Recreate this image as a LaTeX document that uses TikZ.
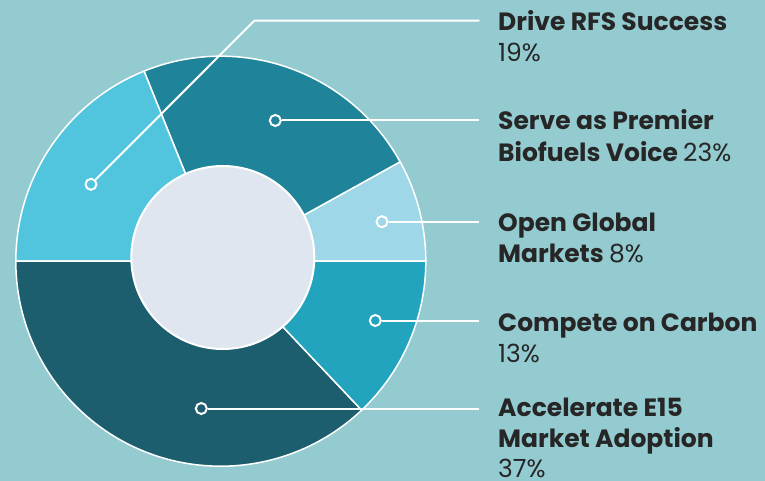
\documentclass[tikz,border=0pt]{standalone}
\usepackage{fontspec}
\setmainfont{Poppins}
\definecolor{bg}{HTML}{93CBD0}
\definecolor{segcyan}{HTML}{52C5DE}
\definecolor{segteal}{HTML}{1F8499}
\definecolor{seglight}{HTML}{9ED8E8}
\definecolor{segmid}{HTML}{22A3BE}
\definecolor{segdark}{HTML}{1C5E6E}
\definecolor{innerc}{HTML}{DFE6F0}
\definecolor{txt}{HTML}{262626}
\tikzset{
  sep/.style={draw=white, line width=1.5pt},
  dotnode/.style={circle, draw=white, line width=2pt, minimum size=11pt, inner sep=0pt},
  leader/.style={draw=white, line width=2pt},
  lbl/.style={anchor=base west, inner sep=0pt, text=txt, font=\fontsize{25}{31}\selectfont},
}
\begin{document}
\begin{tikzpicture}[x=1pt, y=-1pt]
\useasboundingbox (0,0) rectangle (765,481);
\fill[bg] (0,0) rectangle (765,481);
\coordinate (O) at (220.8,261.2);
\def\R{205}
% wedges
\filldraw[fill=seglight, sep] (O) -- ++(0:\R) arc[start angle=0, end angle=-29, radius=\R] -- cycle;
\filldraw[fill=segteal, sep] (O) -- ++(-29:\R) arc[start angle=-29, end angle=-112, radius=\R] -- cycle;
\filldraw[fill=segcyan, sep] (O) -- ++(-112:\R) arc[start angle=-112, end angle=-180, radius=\R] -- cycle;
\filldraw[fill=segdark, sep] (O) -- ++(-180:\R) arc[start angle=-180, end angle=-313.4, radius=\R] -- cycle;
\filldraw[fill=segmid, sep] (O) -- ++(-313.4:\R) arc[start angle=-313.4, end angle=-360, radius=\R] -- cycle;
% inner circle
\node[circle, fill=innerc, draw=white, line width=2pt, minimum size=183pt, inner sep=0pt] (hole) at (222.8,257.5) {};
% dots
\node[dotnode, fill=segcyan] (d1) at (91,184.3) {};
\node[dotnode, fill=segteal] (d2) at (275.3,120.5) {};
\node[dotnode, fill=seglight] (d3) at (382,221.7) {};
\node[dotnode, fill=segmid] (d4) at (375.3,320.5) {};
\node[dotnode, fill=segdark] (d5) at (201.3,408.5) {};
% leader ends
\coordinate (b1) at (254.3,20.7);
\coordinate (e1) at (479.3,20.7);
\coordinate (e2) at (479.3,120.5);
\coordinate (e3) at (479.3,221.7);
\coordinate (e4) at (479.3,320.5);
\coordinate (e5) at (479.3,408.5);
\draw[leader] (d1) -- (b1) -- (e1);
\draw[leader] (d2) -- (e2);
\draw[leader] (d3) -- (e3);
\draw[leader] (d4) -- (e4);
\draw[leader] (d5) -- (e5);
% labels
\node[lbl] (t1a) at (498,30.7) {\bfseries Drive RFS Success};
\node[lbl] (t1b) at (498,62) {19\%};
\node[lbl] (t2a) at (498,130) {\bfseries Serve as Premier};
\node[lbl] (t2b) at (498,161.7) {\bfseries Biofuels Voice \mdseries 23\%};
\node[lbl] (t3a) at (498,231.5) {\bfseries Open Global};
\node[lbl] (t3b) at (498,262.7) {\bfseries Markets \mdseries 8\%};
\node[lbl] (t4a) at (498,331.7) {\bfseries Compete on Carbon};
\node[lbl] (t4b) at (498,362.3) {13\%};
\node[lbl] (t5a) at (498,416.7) {\bfseries Accelerate E15};
\node[lbl] (t5b) at (498,447.3) {\bfseries Market Adoption};
\node[lbl] (t5c) at (498,477.3) {37\%};
\end{tikzpicture}
\end{document}
